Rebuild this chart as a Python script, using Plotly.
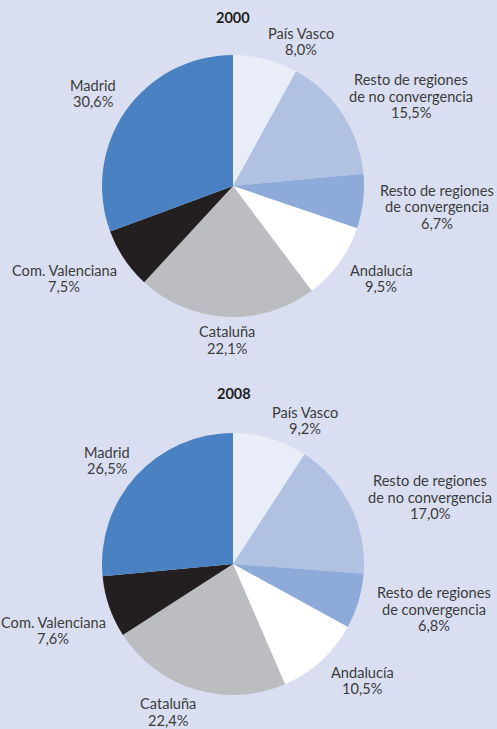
import plotly.graph_objects as go

W, H = 497, 729

regions = ["País Vasco", "Resto de regiones<br>de no convergencia", "Resto de regiones<br>de convergencia",
           "Andalucía", "Cataluña", "Com. Valenciana", "Madrid"]
values_2000 = [8.0, 15.5, 6.7, 9.5, 22.1, 7.5, 30.6]
values_2008 = [9.2, 17.0, 6.8, 10.5, 22.4, 7.6, 26.5]
years = ["2000", "2008"]
colors = ["#e8edf7", "#b0c1e2", "#8daad8", "#ffffff", "#bcbdc0", "#231f20", "#4a81c3"]

# label block centres in pixels (layout only)
label_pos = [
    [(301, 41.5), (411, 96), (437, 207), (381, 278.5), (227, 340), (64, 278.5), (93, 93.5)],
    [(305, 420.5), (430, 497), (434, 609), (362, 680.5), (168, 712), (53, 630.5), (107, 460.5)],
]
title_pos = [(233, 17), (234, 393)]
pie_boxes = [(102, 55, 364, 317), (102, 433, 364, 695)]
LINE = 16.5
FONT = "Lato"
FS = 14.6


def px(x):
    return x / W


def py(y):
    return 1 - y / H


fig = go.Figure()
annotations = []
for i, vals in enumerate([values_2000, values_2008]):
    x0, y0, x1, y1 = pie_boxes[i]
    fig.add_trace(go.Pie(
        labels=[r.replace("<br>", " ") for r in regions],
        values=vals,
        marker=dict(colors=colors, line=dict(width=0)),
        sort=False,
        direction="clockwise",
        rotation=0,
        textinfo="none",
        hovertemplate="%{label}: %{value:.1f}%<extra></extra>",
        domain=dict(x=[px(x0), px(x1)], y=[py(y1), py(y0)]),
        showlegend=False,
    ))
    tx, ty = title_pos[i]
    annotations.append(dict(
        x=px(tx), y=py(ty), xref="paper", yref="paper", showarrow=False,
        text="<b>" + years[i] + "</b>", xanchor="center", yanchor="middle",
        font=dict(family=FONT, size=14.5, color="#231f20"),
    ))
    for name, v, (lx, ly) in zip(regions, vals, label_pos[i]):
        lines = name.split("<br>") + [f"{v:.1f}%".replace(".", ",")]
        n = len(lines)
        for k, ln in enumerate(lines):
            yy = ly + (k - (n - 1) / 2) * LINE
            annotations.append(dict(
                x=px(lx), y=py(yy), xref="paper", yref="paper", showarrow=False,
                text=ln, xanchor="center", yanchor="middle", align="center",
                font=dict(family=FONT, size=FS, color="#3c3c3c"),
            ))

fig.update_layout(
    width=W, height=H,
    margin=dict(l=0, r=0, t=0, b=0),
    paper_bgcolor="#d9dff1",
    plot_bgcolor="#d9dff1",
    annotations=annotations,
)

fig.write_html(
    "out.html",
    config={"displayModeBar": False},
    post_script="document.body.style.margin='0';document.body.style.overflow='hidden';",
)
